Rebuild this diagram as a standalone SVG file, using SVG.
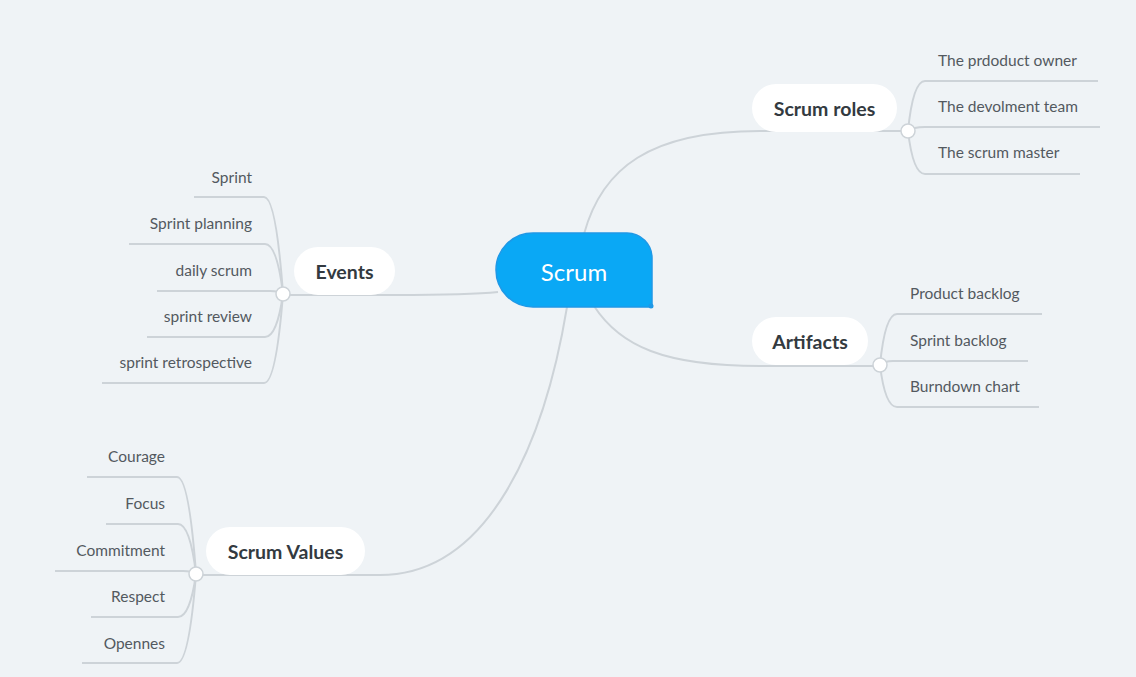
<svg xmlns="http://www.w3.org/2000/svg" width="1136" height="677" viewBox="0 0 1136 677">
<style>
.bg{fill:#EFF3F6}
.conn{fill:none;stroke:#CDD3D8;stroke-width:2}
.pill{fill:#FFFFFF}
.lbl{font-family:Lato,"Open Sans","Liberation Sans",sans-serif;font-weight:bold;font-size:19.5px;fill:#333A40;text-anchor:middle}
.sub{font-family:Lato,"Open Sans","Liberation Sans",sans-serif;font-size:15.5px;fill:#53595F}
.end{text-anchor:end}
.knob{fill:#FFFFFF;stroke:#CDD3D8;stroke-width:1.5}
.root{fill:#0AA8F5;stroke:#1F98E6;stroke-width:1.5}
.rootlbl{font-family:Lato,"Open Sans","Liberation Sans",sans-serif;font-size:24px;fill:#FFFFFF;text-anchor:middle}
</style>
<rect class="bg" x="0" y="0" width="1136" height="677"/>
<g id="connectors">
  <path class="conn" d="M584,234 C602,168 650,131 760,131 L901,131"/>
  <path class="conn" d="M594,306 C620,346 664,366 760,366 L874,366"/>
  <path class="conn" d="M498,292 C470,295 430,295 395,295 L290,295"/>
  <path class="conn" d="M567,307 C545,440 490,575 380,575 L203,575"/>
  <path class="conn" d="M908,131 Q913,81 925,81 H1098"/>
  <path class="conn" d="M908,131 Q913,127 925,127 H1100"/>
  <path class="conn" d="M908,131 Q913,174 925,174 H1080"/>
  <path class="conn" d="M880,365 Q885,314 897,314 H1042"/>
  <path class="conn" d="M880,365 Q884,361 893,361 H1028"/>
  <path class="conn" d="M880,365 Q885,407 897,407 H1039"/>
  <path class="conn" d="M283,294 Q276,197 264,197 H194"/>
  <path class="conn" d="M283,294 Q277,244 265,244 H129"/>
  <path class="conn" d="M283,294 Q279,291 270,291 H157"/>
  <path class="conn" d="M283,294 Q277,337 265,337 H147"/>
  <path class="conn" d="M283,294 Q276,383 264,383 H102"/>
  <path class="conn" d="M196,574 Q189,477 177,477 H87"/>
  <path class="conn" d="M196,574 Q190,524 178,524 H106"/>
  <path class="conn" d="M196,574 Q192,571 183,571 H55"/>
  <path class="conn" d="M196,574 Q190,617 178,617 H91"/>
  <path class="conn" d="M196,574 Q189,663 177,663 H82"/>
</g>
<g id="node-scrum">
  <path class="root" d="M533,233 H627 A25,25 0 0 1 652,258 V307 H533 A37,37 0 0 1 533,233 Z"/>
  <circle cx="651" cy="306" r="2.5" fill="#1F98E6"/>
  <text class="rootlbl" x="574" y="281">Scrum</text>
</g>
<g id="node-scrum-roles">
  <rect class="pill" x="752" y="84" width="145" height="48" rx="24"/>
  <text class="lbl" x="824.5" y="115.5">Scrum roles</text>
  <circle class="knob" cx="908" cy="131" r="7"/>
</g>
<g id="node-product-owner"><text class="sub" x="938" y="66">The prdoduct owner</text></g>
<g id="node-dev-team"><text class="sub" x="938" y="112">The devolment team</text></g>
<g id="node-scrum-master"><text class="sub" x="938" y="158">The scrum master</text></g>
<g id="node-artifacts">
  <rect class="pill" x="752" y="317" width="116" height="48" rx="24"/>
  <text class="lbl" x="810" y="348.5">Artifacts</text>
  <circle class="knob" cx="880" cy="365" r="7"/>
</g>
<g id="node-product-backlog"><text class="sub" x="910" y="299">Product backlog</text></g>
<g id="node-sprint-backlog"><text class="sub" x="910" y="346">Sprint backlog</text></g>
<g id="node-burndown"><text class="sub" x="910" y="392">Burndown chart</text></g>
<g id="node-events">
  <rect class="pill" x="294" y="247" width="101" height="48" rx="24"/>
  <text class="lbl" x="344.5" y="278.5">Events</text>
  <circle class="knob" cx="283" cy="294" r="7"/>
</g>
<g id="node-sprint"><text class="sub end" x="252" y="183">Sprint</text></g>
<g id="node-sprint-planning"><text class="sub end" x="252" y="229">Sprint planning</text></g>
<g id="node-daily-scrum"><text class="sub end" x="252" y="276">daily scrum</text></g>
<g id="node-sprint-review"><text class="sub end" x="252" y="322">sprint review</text></g>
<g id="node-sprint-retro"><text class="sub end" x="252" y="368">sprint retrospective</text></g>
<g id="node-scrum-values">
  <rect class="pill" x="206" y="527" width="159" height="48" rx="24"/>
  <text class="lbl" x="285.5" y="558.5">Scrum Values</text>
  <circle class="knob" cx="196" cy="574" r="7"/>
</g>
<g id="node-courage"><text class="sub end" x="165" y="462">Courage</text></g>
<g id="node-focus"><text class="sub end" x="165" y="509">Focus</text></g>
<g id="node-commitment"><text class="sub end" x="165" y="556">Commitment</text></g>
<g id="node-respect"><text class="sub end" x="165" y="602">Respect</text></g>
<g id="node-opennes"><text class="sub end" x="165" y="649">Opennes</text></g>
</svg>
